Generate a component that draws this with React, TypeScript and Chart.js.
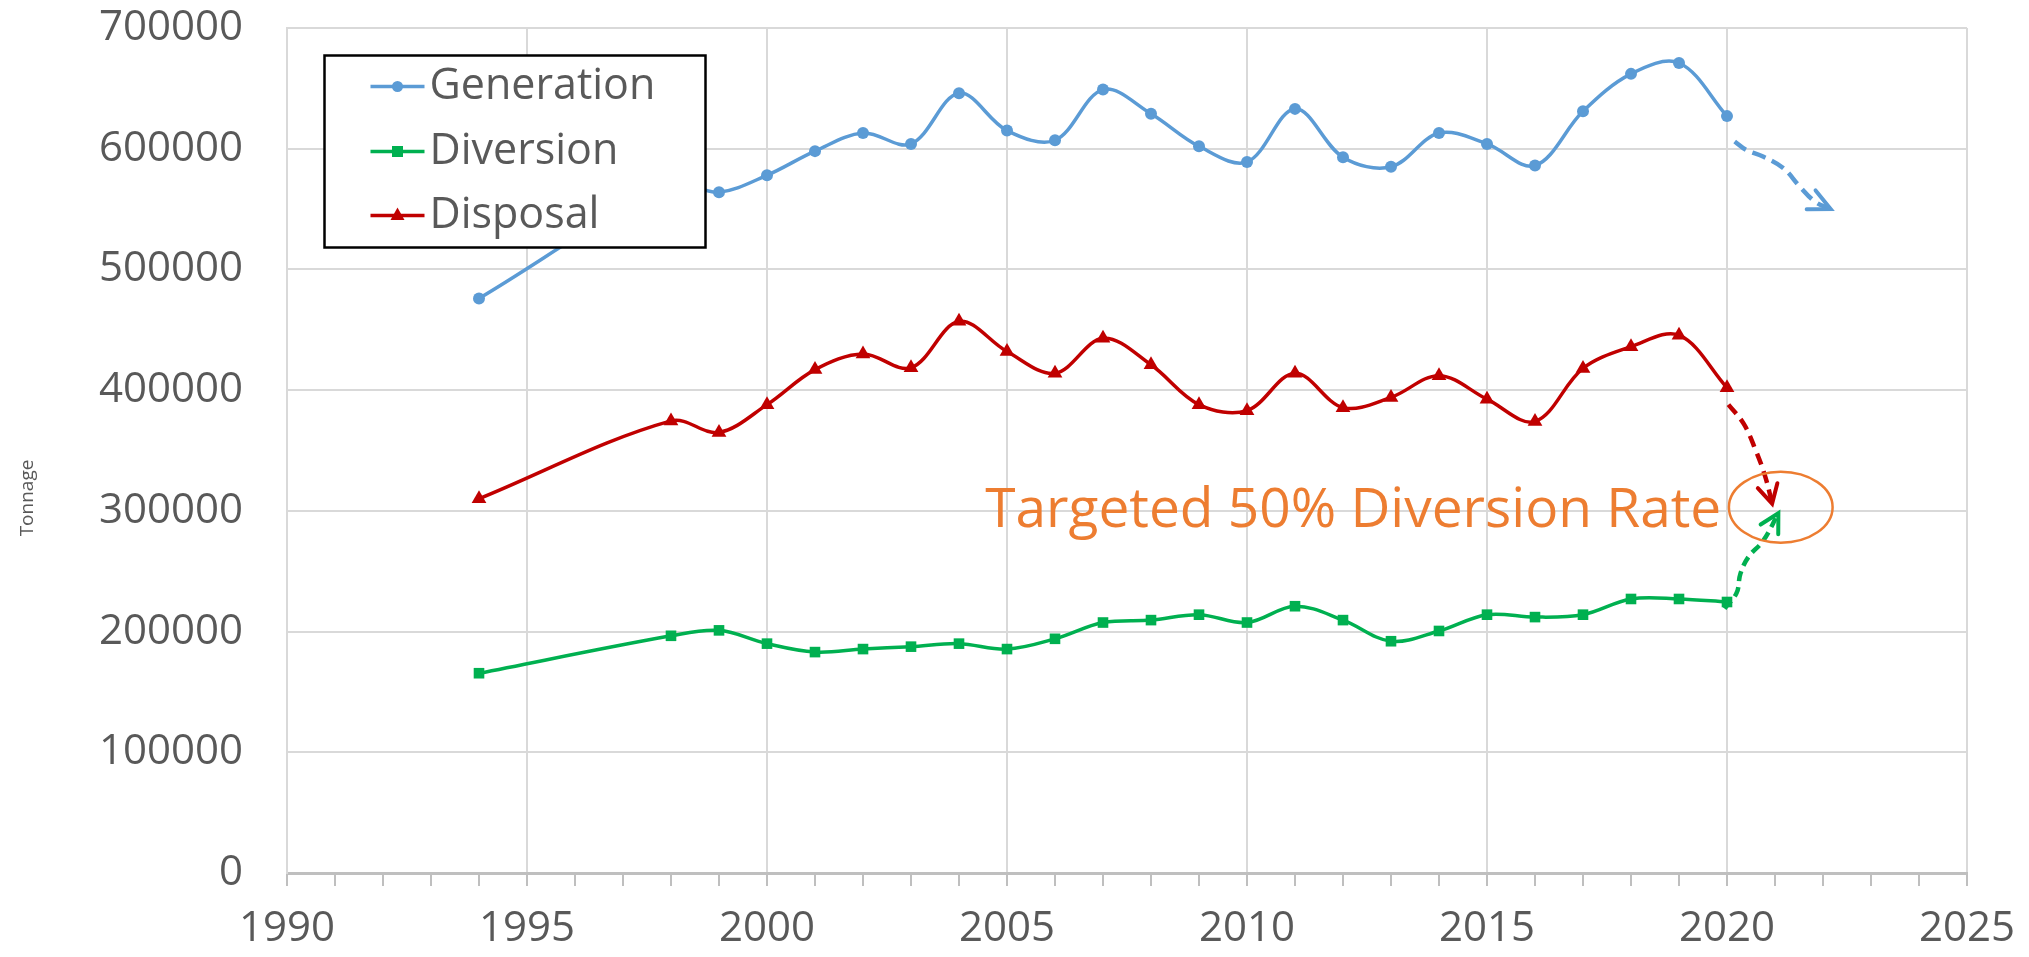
import React, { useEffect, useRef } from "react";
import { Chart, registerables } from "chart.js";

Chart.register(...registerables);

// ---------- DATA ----------
const years = [1994, 1998, 1999, 2000, 2001, 2002, 2003, 2004, 2005, 2006, 2007, 2008, 2009, 2010, 2011, 2012, 2013, 2014, 2015, 2016, 2017, 2018, 2019, 2020];
const generation = [476000, 570000, 564000, 578000, 598000, 613000, 604000, 646000, 615000, 607000, 649000, 629000, 602000, 589000, 633000, 593000, 585000, 613000, 604000, 586000, 631000, 662000, 671000, 627000];
const diversion = [165500, 196500, 201000, 190000, 183000, 185500, 187500, 190000, 185500, 194000, 207500, 209500, 214000, 207500, 221000, 209500, 192000, 200500, 214000, 212000, 214000, 227000, 227000, 224500];
const disposal = [310000, 374500, 365000, 388000, 417000, 430000, 418500, 457000, 432000, 414000, 443000, 421000, 388000, 383000, 414000, 385500, 394000, 412000, 392500, 374000, 418000, 436000, 445500, 402000];

const seriesNames = ["Generation", "Diversion", "Disposal"];

// projection arrows (data units: [year, tonnage])
const generationArrow = [[2020.16, 606000], [2020.4, 599000], [2020.75, 593500], [2021.17, 584000], [2021.52, 568500], [2021.84, 556000], [2022.16, 550000]];
const disposalArrow = [[2020.03, 388000], [2020.35, 372000], [2020.6, 350000], [2020.8, 328000], [2020.94, 306000]];
const diversionArrow = [[2019.95, 219000], [2020.2, 232000], [2020.28, 248000], [2020.45, 262000], [2020.75, 275000], [2021.07, 298000]];

const targetText = "Targeted 50% Diversion Rate";
const targetTextAnchor = [2019.88, 286500];
const targetEllipse = { year: 2021.12, value: 303000, halfYears: 1.08, halfValue: 29400 };

const xTicksMin = 1990;
const xTicksMax = 2025;
const yTicksMax = 700000;
const yTickStep = 100000;
const yTitle = "Tonnage";

// ---------- STYLE ----------
const BLUE = "#5B9BD5";
const GREEN = "#00B050";
const RED = "#C00000";
const ORANGE = "#ED7D31";
const TEXT = "#595959";
const GRID = "#d9d9d9";
const FONT = "'Open Sans', 'DejaVu Sans', sans-serif";

const W = 2029;
const H = 957;

const toXY = (xs: number[], ys: number[]) => xs.map((x, i) => ({ x, y: ys[i] }));
const pathXY = (p: number[][]) => p.map(([x, y]) => ({ x, y }));

const overlayPlugin = {
  id: "overlay",
  afterDatasetsDraw(chart: any) {
    const { ctx, chartArea } = chart;
    const xs = chart.scales.x;
    const ys = chart.scales.y;

    // arrow heads
    const head = (path: number[][], color: string, len: number, half: number) => {
      const n = path.length;
      const tx = xs.getPixelForValue(path[n - 1][0]);
      const ty = ys.getPixelForValue(path[n - 1][1]);
      const px = xs.getPixelForValue(path[n - 2][0]);
      const py = ys.getPixelForValue(path[n - 2][1]);
      const a = Math.atan2(ty - py, tx - px);
      ctx.save();
      ctx.strokeStyle = color;
      ctx.lineWidth = 4;
      ctx.lineCap = "round";
      ctx.setLineDash([]);
      ctx.beginPath();
      ctx.moveTo(tx - len * Math.cos(a - half), ty - len * Math.sin(a - half));
      ctx.lineTo(tx, ty);
      ctx.lineTo(tx - len * Math.cos(a + half), ty - len * Math.sin(a + half));
      ctx.stroke();
      ctx.restore();
    };
    head(generationArrow, BLUE, 24, 0.45);
    head(disposalArrow, RED, 21, 0.5);
    head(diversionArrow, GREEN, 21, 0.5);

    // target ellipse
    const cx = xs.getPixelForValue(targetEllipse.year);
    const cy = ys.getPixelForValue(targetEllipse.value);
    const rx = xs.getPixelForValue(targetEllipse.year + targetEllipse.halfYears) - cx;
    const ry = cy - ys.getPixelForValue(targetEllipse.value + targetEllipse.halfValue);
    ctx.save();
    ctx.strokeStyle = ORANGE;
    ctx.lineWidth = 2.5;
    ctx.beginPath();
    ctx.ellipse(cx, cy, rx, ry, 0, 0, Math.PI * 2);
    ctx.stroke();

    // target text
    ctx.fillStyle = ORANGE;
    ctx.font = `55px ${FONT}`;
    ctx.textAlign = "right";
    ctx.textBaseline = "alphabetic";
    ctx.fillText(targetText, xs.getPixelForValue(targetTextAnchor[0]), ys.getPixelForValue(targetTextAnchor[1]));
    ctx.restore();

    // legend
    const lx = chartArea.left + 37.5;
    const ly = chartArea.top + 27.5;
    const lw = 381;
    const lh = 192;
    ctx.save();
    ctx.fillStyle = "#ffffff";
    ctx.fillRect(lx, ly, lw, lh);
    ctx.strokeStyle = "#000000";
    ctx.lineWidth = 2.5;
    ctx.strokeRect(lx, ly, lw, lh);
    const colors = [BLUE, GREEN, RED];
    const rowY = [ly + 31, ly + 96, ly + 160];
    for (let i = 0; i < 3; i++) {
      const yy = rowY[i];
      ctx.strokeStyle = colors[i];
      ctx.fillStyle = colors[i];
      ctx.lineWidth = 3.5;
      ctx.beginPath();
      ctx.moveTo(lx + 46, yy);
      ctx.lineTo(lx + 100, yy);
      ctx.stroke();
      const mx = lx + 73;
      ctx.beginPath();
      if (i === 0) {
        ctx.arc(mx, yy, 5.5, 0, Math.PI * 2);
      } else if (i === 1) {
        ctx.rect(mx - 5.5, yy - 5.5, 11, 11);
      } else {
        ctx.moveTo(mx, yy - 8);
        ctx.lineTo(mx + 7, yy + 4.5);
        ctx.lineTo(mx - 7, yy + 4.5);
        ctx.closePath();
      }
      ctx.fill();
      ctx.fillStyle = TEXT;
      ctx.font = `43px ${FONT}`;
      ctx.textAlign = "left";
      ctx.textBaseline = "middle";
      ctx.fillText(seriesNames[i], lx + 105, yy);
    }
    ctx.restore();

    // y-axis title
    ctx.save();
    ctx.translate(28, 498);
    ctx.rotate(-Math.PI / 2);
    ctx.fillStyle = TEXT;
    ctx.font = `19px ${FONT}`;
    ctx.textAlign = "center";
    ctx.textBaseline = "middle";
    ctx.fillText(yTitle, 0, 0);
    ctx.restore();
  },
};

export default function App() {
  const canvasRef = useRef<HTMLCanvasElement | null>(null);

  useEffect(() => {
    if (!canvasRef.current) return;
    const tickFont = { family: FONT, size: 42 };
    const lineDs = (label: string, data: number[], color: string, style: string, r: number) => ({
      label,
      data: toXY(years, data),
      borderColor: color,
      backgroundColor: color,
      borderWidth: 3.5,
      pointStyle: style,
      pointRadius: r,
      pointBorderWidth: 0,
      pointBackgroundColor: color,
      tension: 0.35,
    });
    const arrowDs = (data: number[][], color: string, dash: number[]) => ({
      label: "",
      data: pathXY(data),
      borderColor: color,
      borderWidth: 4.5,
      borderDash: dash,
      pointRadius: 0,
      tension: 0.4,
    });
    const chart = new Chart(canvasRef.current, {
      type: "line",
      data: {
        datasets: [
          arrowDs(generationArrow, BLUE, [14, 7]),
          arrowDs(disposalArrow, RED, [12, 7]),
          arrowDs(diversionArrow, GREEN, [10, 6]),
          lineDs(seriesNames[0], generation, BLUE, "circle", 6),
          lineDs(seriesNames[1], diversion, GREEN, "rect", 7.5),
          lineDs(seriesNames[2], disposal, RED, "triangle", 8.5),
        ] as any,
      },
      options: {
        responsive: false,
        animation: false,
        devicePixelRatio: 1,
        layout: { padding: { top: 28, right: 62, left: 0, bottom: 0 } },
        plugins: { legend: { display: false }, tooltip: { enabled: false } },
        scales: {
          x: {
            type: "linear",
            min: xTicksMin,
            max: xTicksMax,
            ticks: {
              stepSize: 1,
              autoSkip: false,
              maxRotation: 0,
              minRotation: 0,
              font: tickFont,
              color: TEXT,
              padding: 18,
              callback: (v: any) => (Number(v) % 5 === 0 ? String(v) : ""),
            },
            grid: {
              color: (c: any) => (c.tick && Math.round(c.tick.value) % 5 === 0 ? GRID : "rgba(0,0,0,0)"),
              lineWidth: 2,
              tickLength: 13,
              tickColor: "#bfbfbf",
              tickWidth: 2,
            },
            border: { color: "#bfbfbf", width: 3 },
            afterFit: (s: any) => {
              s.height = 84;
              s.paddingLeft = 0;
              s.paddingRight = 0;
            },
          },
          y: {
            min: 0,
            max: yTicksMax,
            ticks: {
              stepSize: yTickStep,
              font: tickFont,
              color: TEXT,
              padding: 44,
              callback: (v: any) => String(v),
            },
            grid: { color: GRID, lineWidth: 2, drawTicks: false },
            border: { color: GRID, width: 2 },
            afterFit: (s: any) => {
              s.width = 287;
              s.paddingTop = 0;
              s.paddingBottom = 0;
            },
          },
        },
      } as any,
      plugins: [overlayPlugin],
    });
    return () => chart.destroy();
  }, []);

  return (
    <div style={{ position: "absolute", left: 0, top: 0, width: W, height: H, background: "#ffffff" }}>
      <canvas ref={canvasRef} width={W} height={H} style={{ display: "block", width: W, height: H }} />
    </div>
  );
}
